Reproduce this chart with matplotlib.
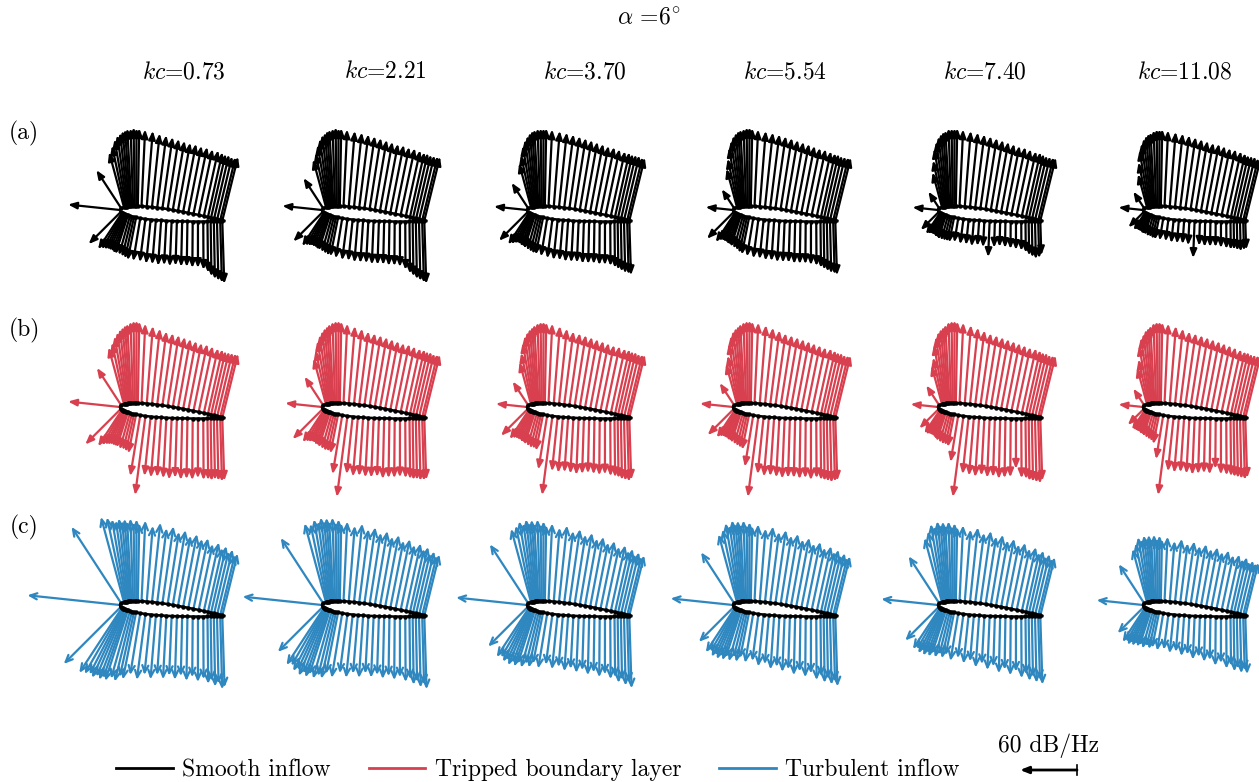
import numpy as np
import matplotlib
matplotlib.use("Agg")
import matplotlib.pyplot as plt
from matplotlib.lines import Line2D

plt.rcParams["font.family"] = ["cmr10", "DejaVu Serif"]
plt.rcParams["mathtext.fontset"] = "cm"
plt.rcParams["axes.formatter.use_mathtext"] = True

# ---------------------------------------------------------------- data
ALPHA_DEG = 6.0
KC = ["0.73", "2.21", "3.70", "5.54", "7.40", "11.08"]
CASES = ["Smooth inflow", "Tripped boundary layer", "Turbulent inflow"]
COLORS = ["#000000", "#d8404f", "#2f87c0"]
ROW_TAGS = ["(a)", "(b)", "(c)"]

# chordwise sensor positions x/c on the suction and pressure side
UP_STATIONS = [0.01, 0.035, 0.045, 0.055, 0.065, 0.075, 0.085, 0.095, 0.105,
               0.12, 0.135, 0.15, 0.165, 0.20, 0.25, 0.30, 0.35, 0.40, 0.45,
               0.50, 0.55, 0.60, 0.65, 0.70, 0.75, 0.80, 0.84, 0.87, 0.90,
               0.93, 0.96, 0.98]
LO_STATIONS = [0.01, 0.022, 0.028, 0.035, 0.042, 0.05, 0.06, 0.07, 0.08,
               0.10, 0.12, 0.14, 0.16, 0.20, 0.25, 0.30, 0.35, 0.40, 0.45,
               0.50, 0.55, 0.60, 0.65, 0.70, 0.75, 0.80, 0.84, 0.87, 0.90,
               0.93, 0.96, 0.98]

# surface pressure level [dB/Hz] at the leading-edge sensor, one per kc
LE_SMOOTH = [55, 42, 35, 29, 27, 26]
LE_TRIPPED = [55, 39, 33, 35, 29, 26]
LE_TURB = [98, 84, 75, 66, 60, 49]

# suction side levels [dB/Hz], one row per kc
UP_SMOOTH = [
    [48, 60, 66, 72, 76, 78, 80, 81, 82, 82, 83, 82, 82, 81, 80, 78, 77, 76, 75, 74, 73, 73, 72, 72, 71, 71, 70, 69, 69, 68, 68, 69],
    [38, 52, 58, 66, 72, 76, 78, 80, 81, 82, 83, 82, 82, 81, 80, 79, 78, 77, 76, 75, 74, 73, 73, 72, 72, 71, 70, 70, 69, 69, 69, 69],
    [32, 48, 56, 65, 71, 75, 78, 80, 81, 82, 82, 82, 82, 81, 80, 79, 78, 77, 76, 75, 74, 73, 72, 72, 71, 70, 70, 69, 69, 69, 68, 68],
    [24, 42, 52, 63, 70, 75, 78, 80, 81, 82, 83, 83, 82, 81, 80, 79, 78, 77, 76, 75, 74, 73, 72, 71, 71, 70, 69, 69, 68, 68, 68, 68],
    [21, 38, 50, 62, 69, 74, 77, 79, 80, 82, 82, 82, 82, 81, 80, 79, 78, 77, 76, 75, 74, 73, 72, 72, 71, 70, 70, 69, 68, 68, 68, 68],
    [21, 36, 48, 60, 67, 72, 75, 77, 78, 80, 81, 81, 81, 80, 79, 78, 77, 76, 75, 74, 73, 73, 72, 71, 71, 70, 69, 68, 68, 68, 67, 67],
]
# pressure side levels [dB/Hz]
LO_SMOOTH = [
    [48, 46, 44, 43, 42, 42, 42, 43, 43, 43, 44, 45, 46, 46, 46, 47, 47, 48, 47, 48, 47, 48, 48, 49, 49, 51, 54, 58, 61, 63, 65, 66],
    [44, 42, 40, 39, 38, 38, 38, 39, 39, 40, 41, 42, 42, 43, 44, 44, 45, 45, 45, 46, 46, 46, 47, 47, 48, 51, 55, 58, 61, 63, 65, 66],
    [43, 40, 38, 36, 35, 35, 36, 36, 37, 38, 39, 40, 40, 41, 42, 43, 43, 44, 44, 44, 45, 45, 45, 46, 46, 47, 49, 51, 53, 55, 56, 57],
    [40, 37, 34, 33, 33, 33, 34, 34, 35, 36, 37, 39, 40, 41, 42, 42, 43, 43, 44, 44, 44, 45, 45, 45, 46, 47, 49, 51, 53, 55, 56, 57],
    [27, 27, 26, 25, 25, 25, 26, 26, 27, 27, 27, 27, 27, 26, 27, 27, 28, 27, 28, 38, 28, 27, 28, 29, 30, 31, 33, 36, 38, 40, 39, 36],
    [23, 22, 21, 21, 21, 21, 22, 22, 22, 23, 23, 24, 24, 24, 24, 25, 25, 25, 26, 39, 26, 27, 27, 27, 28, 29, 30, 30, 31, 32, 31, 30],
]
UP_TRIPPED = [
    [47, 62, 66, 72, 76, 79, 81, 83, 84, 86, 87, 87, 86, 84, 82, 80, 78, 77, 76, 75, 74, 73, 72, 72, 71, 70, 70, 69, 69, 69, 69, 69],
    [36, 50, 58, 67, 73, 77, 80, 82, 84, 86, 87, 87, 86, 84, 82, 80, 78, 77, 76, 75, 74, 73, 72, 72, 71, 70, 70, 69, 69, 68, 68, 68],
    [30, 46, 55, 65, 72, 76, 79, 81, 83, 85, 86, 86, 85, 84, 82, 80, 78, 77, 76, 75, 74, 73, 72, 71, 71, 70, 70, 69, 69, 68, 68, 68],
    [28, 44, 52, 64, 72, 77, 80, 82, 84, 86, 87, 87, 86, 85, 83, 81, 79, 77, 76, 75, 74, 73, 72, 71, 70, 70, 69, 68, 68, 67, 67, 67],
    [25, 42, 50, 63, 71, 76, 79, 81, 83, 86, 87, 87, 86, 85, 83, 81, 79, 77, 76, 75, 74, 73, 72, 71, 70, 70, 69, 68, 68, 67, 67, 67],
    [21, 40, 48, 62, 70, 74, 78, 80, 82, 85, 86, 86, 85, 84, 82, 80, 78, 77, 76, 75, 74, 73, 72, 71, 70, 69, 68, 68, 67, 67, 67, 67],
]
LO_TRIPPED = [
    [53, 46, 43, 41, 40, 39, 39, 39, 39, 40, 40, 41, 42, 65, 84, 63, 64, 63, 64, 65, 63, 65, 64, 65, 63, 65, 65, 66, 65, 66, 67, 66],
    [45, 41, 39, 38, 37, 37, 38, 38, 39, 40, 41, 41, 42, 63, 86, 61, 63, 62, 63, 63, 62, 64, 63, 63, 62, 63, 64, 65, 65, 66, 66, 65],
    [40, 37, 35, 34, 34, 34, 35, 35, 36, 37, 38, 38, 39, 58, 84, 58, 59, 58, 59, 60, 59, 58, 59, 60, 59, 61, 62, 63, 65, 66, 67, 65],
    [39, 35, 33, 32, 32, 32, 33, 33, 34, 35, 36, 37, 38, 55, 86, 61, 63, 62, 63, 64, 63, 63, 64, 63, 65, 63, 65, 66, 67, 68, 67, 66],
    [29, 30, 30, 29, 29, 29, 30, 31, 32, 33, 34, 34, 35, 50, 86, 61, 62, 63, 61, 63, 62, 64, 63, 62, 53, 63, 64, 66, 67, 68, 69, 66],
    [24, 25, 25, 25, 25, 25, 26, 26, 27, 28, 29, 30, 32, 47, 84, 58, 59, 58, 59, 60, 59, 58, 59, 53, 59, 60, 61, 62, 63, 64, 65, 63],
]
UP_TURB = [
    [96, 93, 91, 88, 86, 88, 85, 87, 84, 87, 83, 86, 82, 85, 80, 84, 79, 82, 77, 80, 75, 78, 74, 76, 71, 74, 69, 72, 67, 70, 65, 67],
    [82, 86, 84, 88, 85, 89, 85, 88, 84, 88, 83, 86, 82, 84, 80, 83, 78, 81, 76, 79, 74, 77, 72, 75, 70, 73, 68, 71, 65, 68, 64, 66],
    [74, 80, 82, 86, 83, 87, 83, 86, 82, 86, 81, 84, 80, 82, 78, 81, 76, 79, 74, 77, 72, 75, 70, 73, 68, 71, 66, 69, 64, 67, 63, 65],
    [64, 74, 78, 84, 81, 86, 82, 85, 81, 85, 80, 83, 79, 81, 77, 80, 75, 78, 73, 76, 71, 74, 69, 72, 67, 70, 65, 68, 63, 66, 62, 64],
    [59, 70, 76, 83, 80, 85, 81, 84, 80, 84, 79, 82, 78, 80, 76, 79, 74, 77, 72, 75, 70, 73, 68, 71, 66, 69, 64, 67, 62, 65, 61, 63],
    [49, 58, 63, 69, 66, 70, 67, 70, 66, 70, 66, 69, 65, 68, 64, 67, 63, 66, 62, 65, 61, 64, 60, 63, 59, 61, 57, 60, 56, 58, 56, 57],
]
LO_TURB = [
    [85, 82, 80, 78, 80, 77, 79, 76, 78, 74, 76, 70, 72, 66, 70, 64, 68, 63, 67, 63, 67, 63, 68, 64, 69, 66, 71, 68, 74, 71, 77, 75],
    [67, 72, 70, 74, 71, 76, 72, 75, 71, 74, 70, 72, 66, 69, 63, 67, 62, 66, 61, 65, 62, 66, 63, 67, 64, 69, 66, 72, 69, 75, 72, 77],
    [59, 62, 60, 63, 60, 64, 60, 63, 59, 62, 57, 60, 55, 59, 54, 58, 55, 59, 56, 60, 57, 62, 59, 64, 61, 66, 64, 70, 67, 73, 70, 76],
    [52, 56, 53, 57, 54, 57, 53, 56, 52, 55, 50, 54, 49, 53, 50, 55, 52, 57, 54, 59, 56, 62, 58, 64, 60, 67, 63, 70, 66, 72, 69, 74],
    [50, 52, 50, 53, 49, 53, 49, 52, 48, 51, 47, 50, 46, 51, 47, 52, 49, 55, 51, 57, 53, 60, 56, 62, 58, 65, 61, 68, 64, 70, 67, 72],
    [39, 43, 41, 43, 40, 42, 39, 41, 39, 41, 38, 40, 38, 40, 38, 41, 39, 43, 41, 46, 43, 48, 46, 52, 49, 55, 52, 58, 55, 60, 57, 61],
]
KEY_DB = 60

LE_LEVELS = [LE_SMOOTH, LE_TRIPPED, LE_TURB]
UP_LEVELS = [UP_SMOOTH, UP_TRIPPED, UP_TURB]
LO_LEVELS = [LO_SMOOTH, LO_TRIPPED, LO_TURB]

# ---------------------------------------------------------------- layout
W, H = 1259, 782
CHORD_PX = 105.0           # chord length on the page
PX_PER_DB = 57.0 / 60.0    # arrow length per dB
DB_TO_CHORD = PX_PER_DB / CHORD_PX
LE_X = [120, 322, 527, 733, 938, 1143]
LE_Y = [210, 407, 605]
PAD_L, PAD_R, PAD_T, PAD_B = 115, 145, 110, 100

ARROW_STYLES = ["-|>,head_length=0.5,head_width=0.2",
                "-|>,head_length=0.5,head_width=0.2",
                "->,head_length=0.5,head_width=0.22"]


def naca_t(x):
    return 0.6 * (0.2969 * np.sqrt(x) - 0.1260 * x - 0.3516 * x**2
                  + 0.2843 * x**3 - 0.1015 * x**4)


def naca_dt(x):
    return 0.6 * (0.2969 * 0.5 / np.sqrt(x) - 0.1260 - 2 * 0.3516 * x
                  + 3 * 0.2843 * x**2 - 4 * 0.1015 * x**3)


ang = np.deg2rad(ALPHA_DEG)


def pitch(x, y):
    """Rotate nose-up about the leading edge."""
    return (x * np.cos(ang) + y * np.sin(ang),
            -x * np.sin(ang) + y * np.cos(ang))


def surface(stations, side):
    x = np.array(stations)
    t, dt = naca_t(x), naca_dt(x)
    n = np.hypot(dt, 1.0)
    base = np.column_stack(pitch(x, side * t))
    normal = np.column_stack(pitch(-dt / n, side / n))
    return base, normal


up_base, up_norm = surface(UP_STATIONS, 1.0)
lo_base, lo_norm = surface(LO_STATIONS, -1.0)
le_base = np.array([0.0, 0.0])
le_norm = np.array(pitch(-1.0, 0.0))

xo = 0.5 * (1 - np.cos(np.linspace(0, np.pi, 160)))
ox = np.concatenate([xo, xo[::-1]])
oy = np.concatenate([naca_t(xo), -naca_t(xo[::-1])])
ox, oy = pitch(ox, oy)

fig = plt.figure(figsize=(W / 100, H / 100), dpi=100)
fig.patch.set_facecolor("white")


def draw_arrow(ax, base, direction, level, color, style, lw=1.6):
    tip = base + direction * level * DB_TO_CHORD
    ax.annotate("", xy=tip, xytext=base, annotation_clip=False,
                arrowprops=dict(arrowstyle=style, color=color, lw=lw,
                                shrinkA=0, shrinkB=0, mutation_scale=10))


for r in range(3):
    for c in range(6):
        ax = fig.add_axes([(LE_X[c] - PAD_L) / W, 1 - (LE_Y[r] + PAD_B) / H,
                           (PAD_L + PAD_R) / W, (PAD_T + PAD_B) / H])
        ax.set_xlim(-PAD_L / CHORD_PX, PAD_R / CHORD_PX)
        ax.set_ylim(-PAD_B / CHORD_PX, PAD_T / CHORD_PX)
        ax.axis("off")
        col, sty = COLORS[r], ARROW_STYLES[r]
        for i in range(len(LO_STATIONS)):
            draw_arrow(ax, lo_base[i], lo_norm[i], LO_LEVELS[r][c][i], col, sty)
        for i in range(len(UP_STATIONS)):
            draw_arrow(ax, up_base[i], up_norm[i], UP_LEVELS[r][c][i], col, sty)
        draw_arrow(ax, le_base, le_norm, LE_LEVELS[r][c], col, sty)
        ax.fill(ox, oy, facecolor="white", edgecolor="black", lw=1.8, zorder=5)
        ax.plot(np.r_[up_base[:, 0], lo_base[:, 0]], np.r_[up_base[:, 1], lo_base[:, 1]],
                "o", ms=2.2, color="black", zorder=6)

# ---------------------------------------------------------------- text
FS = 17
fig.text(649 / W, 1 - 17 / H, r"$\alpha$ =6$^{\circ}$", ha="center", va="center", fontsize=FS)
KC_X = [184, 385, 585, 785, 985, 1185]
for c, k in enumerate(KC):
    fig.text(KC_X[c] / W, 1 - 72 / H, r"$kc$=" + k, ha="center", va="center", fontsize=FS)
for r, tag in enumerate(ROW_TAGS):
    fig.text(24 / W, 1 - (133 + 197 * r) / H, tag, ha="center", va="center", fontsize=FS)

handles = [Line2D([], [], color=COLORS[i], lw=2.0) for i in range(3)]
fig.legend(handles, CASES, loc="center", bbox_to_anchor=(538 / W, 1 - 770 / H),
           ncol=3, frameon=False, fontsize=FS, handlelength=2.4,
           handletextpad=0.4, columnspacing=1.6, borderaxespad=0, borderpad=0)

# scale key
kax = fig.add_axes([1000 / W, 1 - 790 / H, 100 / W, 40 / H])
kax.set_xlim(0, 100 / CHORD_PX)
kax.set_ylim(0, 40 / CHORD_PX)
kax.axis("off")
kx0, ky0 = 77 / CHORD_PX, 20 / CHORD_PX
kax.annotate("", xy=(kx0 - KEY_DB * DB_TO_CHORD, ky0), xytext=(kx0, ky0),
             annotation_clip=False,
             arrowprops=dict(arrowstyle="-|>,head_length=0.5,head_width=0.2",
                             color="black", lw=2.0, shrinkA=0, shrinkB=0,
                             mutation_scale=10))
kax.plot([kx0, kx0], [ky0 - 5 / CHORD_PX, ky0 + 5 / CHORD_PX], color="black", lw=1.2)
fig.text(1048 / W, 1 - 746 / H, "%d dB/Hz" % KEY_DB, ha="center", va="center", fontsize=FS)

fig.savefig("out.png", dpi=100, facecolor="white")
